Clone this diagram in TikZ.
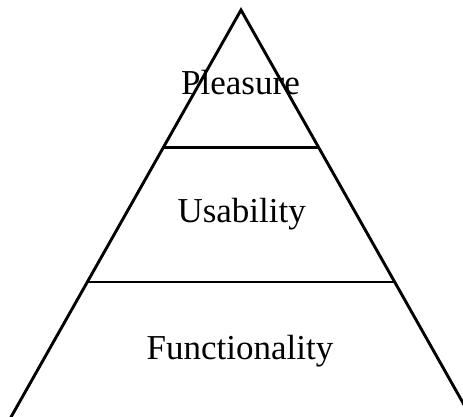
\documentclass[tikz,border=0pt]{standalone}
\usepackage{fontspec}
\setmainfont{Liberation Serif}
\usetikzlibrary{calc}
\begin{document}
\begin{tikzpicture}[x=1pt,y=-1pt,
  edge/.style={line width=2.9pt, line join=miter},
  tier/.style={font=\fontsize{35}{40}\selectfont, anchor=base, inner sep=0pt}]
\useasboundingbox (0,0) rectangle (463,416);
\clip (0,0) rectangle (463,416);
% pyramid outline
\coordinate (apex) at (241,10);
\coordinate (bl) at (3.7,430);
\coordinate (br) at (478.3,430);
\coordinate (l1) at ($(apex)!0.3274!(bl)$);
\coordinate (r1) at ($(apex)!0.3274!(br)$);
\coordinate (l2) at ($(apex)!0.6476!(bl)$);
\coordinate (r2) at ($(apex)!0.6476!(br)$);
\draw[edge] (bl) -- (apex) -- (br);
\draw[edge] (l1) -- (r1);
\draw[edge] (l2) -- (r2);
% tier labels
\node[tier] (pleasure) at (240.5,94) {Pleasure};
\node[tier] (usability) at (241.7,222) {Usability};
\node[tier] (functionality) at (240,359) {Functionality};
\end{tikzpicture}
\end{document}
